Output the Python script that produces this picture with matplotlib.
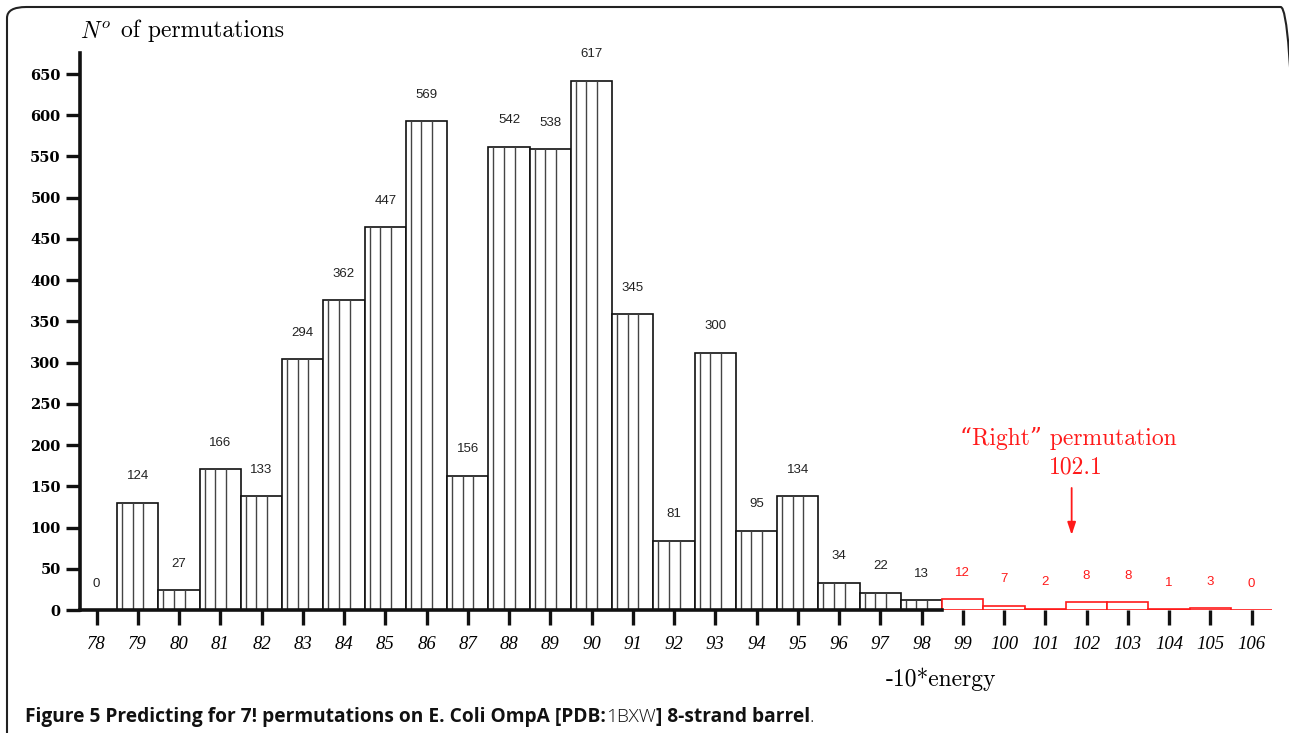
import matplotlib
matplotlib.use("Agg")
import matplotlib.pyplot as plt
from matplotlib.patches import FancyBboxPatch
from matplotlib.transforms import ScaledTranslation

plt.rcParams['mathtext.fontset'] = 'cm'

# ---- data ----
energy = [78, 79, 80, 81, 82, 83, 84, 85, 86, 87, 88, 89, 90, 91, 92, 93, 94, 95, 96, 97, 98,
          99, 100, 101, 102, 103, 104, 105, 106]
counts = [0, 124, 27, 166, 133, 294, 362, 447, 569, 156, 542, 538, 617, 345, 81, 300, 95, 134, 34, 22, 13,
          12, 7, 2, 8, 8, 1, 3, 0]
# bar heights as drawn in the reference (read against the y axis)
bar_heights = [0, 130, 24, 171, 138, 304, 376, 464, 593, 163, 562, 559, 642, 359, 84, 312, 96, 138, 33, 21, 12,
               13, 5, 1.5, 9.6, 9.6, 0.8, 2, 0]
right_start = 99          # bins from here on are drawn in red
right_value = 101.64      # arrow position
yticks = list(range(0, 651, 50))

W, H = 1289, 733
fig = plt.figure(figsize=(W / 100, H / 100), dpi=100)

# axes placement in pixels
x0_px, y0_px = 80, 610
ytop_px = 53.4
xlim = (77.6, 106.6)
px_per_unit = 41.25
ax_w = (xlim[1] - xlim[0]) * px_per_unit
ax = fig.add_axes([x0_px / W, (H - y0_px) / H, ax_w / W, (y0_px - ytop_px) / H])
ax.set_xlim(*xlim)
ax.set_ylim(0, 675)

BLACK = '#111111'
RED = '#ff1a1a'

for e, c, h in zip(energy, counts, bar_heights):
    if e < right_start:
        ax.bar(e, h, width=1.0, facecolor='white', edgecolor=BLACK, linewidth=1.2, zorder=2)
        if h > 0:
            for off in (0.12, 0.375, 0.635):
                ax.vlines(e - 0.5 + off, 0, h, color='#444444', linewidth=1.0, zorder=3)
        ax.annotate(str(c), (e, h), xytext=(0, 19), textcoords='offset points',
                    ha='center', va='center', fontsize=9.5, family='Liberation Sans', color='#222222')
    else:
        ax.bar(e, h, width=1.0, facecolor='white', edgecolor=RED, linewidth=1.2, zorder=2)
        ax.annotate(str(c), (e, h), xytext=(0, 19), textcoords='offset points',
                    ha='center', va='center', fontsize=9.5, family='Liberation Sans', color=RED)

# spines
for s in ('top', 'right'):
    ax.spines[s].set_visible(False)
ax.spines['left'].set_linewidth(2.6)
ax.spines['bottom'].set_linewidth(2.6)
ax.spines['left'].set_color(BLACK)
ax.spines['bottom'].set_color(BLACK)
ax.spines['bottom'].set_bounds(xlim[0], right_start - 0.5)
ax.spines['bottom'].set_zorder(5)

ax.set_yticks(yticks)
ax.set_yticklabels([str(v) for v in yticks], family='DejaVu Serif', weight='bold', fontsize=10.5)
ax.set_xticks(energy)
ax.set_xticklabels([str(v) for v in energy], family='Liberation Serif', style='italic', fontsize=13.5)
ax.tick_params(axis='y', direction='out', length=10, width=2.4, pad=4, color=BLACK)
ax.tick_params(axis='x', direction='out', length=11, width=2.4, pad=8, color=BLACK)

# axis titles
fig.text(80 / W, 1 - 31 / H, r'$N^o$', fontsize=17, ha='left', va='center')
fig.text(121 / W, 1 - 31 / H, 'of permutations', family='cmr10', fontsize=17, ha='left', va='center')
fig.text(941 / W, 1 - 679 / H, '-10*energy', family='cmr10', fontsize=17, ha='center', va='center')

# annotation for right permutation
tr = ax.get_xaxis_transform()
ax.text(right_value - 0.07, 0, '\u201cRight\u201d permutation', family=['cmr10', 'DejaVu Serif'], fontsize=17,
        color=RED, ha='center', va='center',
        transform=tr + ScaledTranslation(0, (610 - 438) / 100, fig.dpi_scale_trans))
ax.text(right_value + 0.1, 0, '102.1', family='cmr10', fontsize=17, color=RED, ha='center', va='center',
        transform=tr + ScaledTranslation(0, (610 - 467) / 100, fig.dpi_scale_trans))
ax.annotate('', xy=(right_value, 91), xytext=(right_value, 148),
            arrowprops=dict(arrowstyle='-|>,head_length=0.75,head_width=0.25', color=RED, lw=1.3,
                            shrinkA=0, shrinkB=0))

# caption
renderer = fig.canvas.get_renderer()
parts = [('Figure 5 Predicting for 7! permutations on E. Coli OmpA [PDB:', 'bold'),
         ('1BXW', 'light'), ('] 8-strand barrel', 'bold'), ('.', 'light')]
xpos = 25
for txt, wt in parts:
    t = fig.text(xpos / W, 1 - 722 / H, txt, family='Open Sans', weight=wt, fontsize=13.8,
                 ha='left', va='baseline', color='#111111')
    bb = t.get_window_extent(renderer)
    xpos += bb.width

# frame
frame = FancyBboxPatch((7 / W, -20 / H), (1300 - 7) / W, (726 + 20) / H,
                       boxstyle='round,pad=0,rounding_size=0.015', transform=fig.transFigure,
                       facecolor='none', edgecolor='#222222', linewidth=1.5, clip_on=False)
fig.patches.append(frame)

fig.savefig('out.png', dpi=100)
